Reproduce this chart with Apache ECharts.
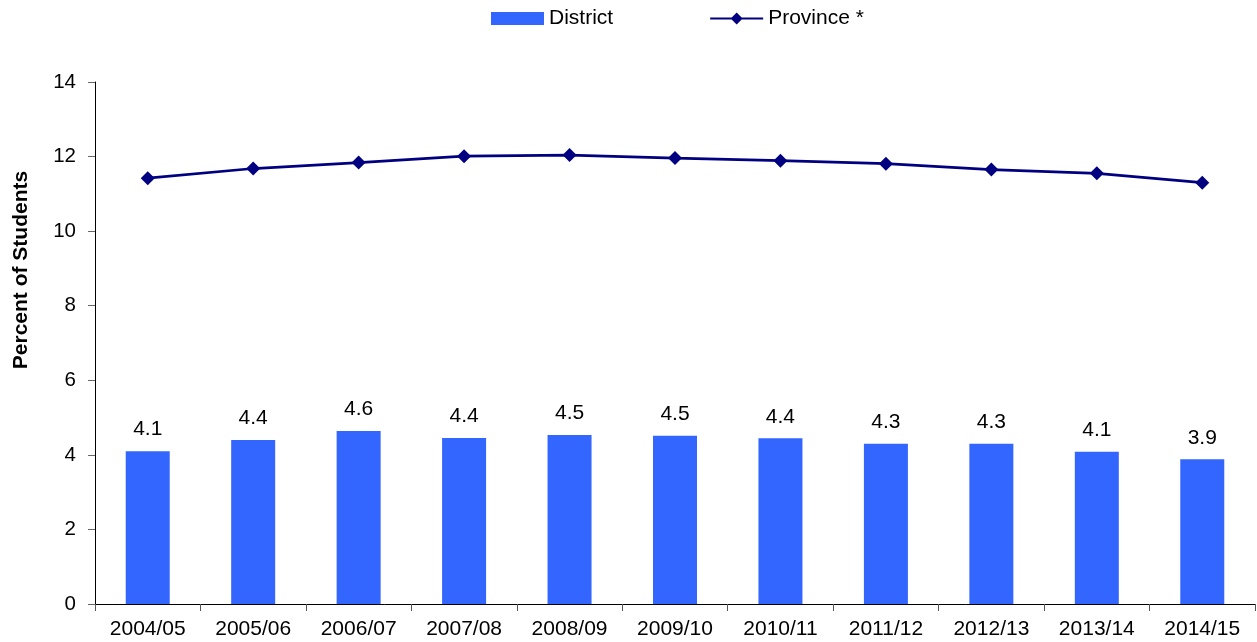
<!DOCTYPE html>
<html><head><meta charset="utf-8">
<script src="https://cdn.jsdelivr.net/npm/echarts@6/dist/echarts.min.js"></script>
<style>html,body{margin:0;padding:0;background:#fff}#c{width:1257px;height:642px}</style>
</head><body><div id="c"></div>
<script>
const categories = ["2004/05","2005/06","2006/07","2007/08","2008/09","2009/10","2010/11","2011/12","2012/13","2013/14","2014/15"];
const districtValues = [4.1,4.4,4.64,4.449,4.53,4.51,4.445,4.3,4.3,4.08,3.88];
const provinceValues = [11.42,11.68,11.84,12.01,12.04,11.96,11.89,11.81,11.65,11.55,11.3];
const yTicks = [0,2,4,6,8,10,12,14];

const font = "Liberation Sans, Arial, sans-serif";
const lineIcon = 'path://M0,5.6L53,5.6L53,7.4L0,7.4Z M20.5,6.5L26.5,0.5L32.5,6.5L26.5,12.5Z';
const chart = echarts.init(document.getElementById('c'));
chart.setOption({
  animation:false,
  textStyle:{fontFamily:font},
  legend:{
    top:3, left:486, itemGap:97, itemWidth:53, itemHeight:13,
    textStyle:{fontSize:21,color:'#000',fontFamily:font},
    data:[{name:'District',icon:'rect'},{name:'Province *',icon:lineIcon,itemStyle:{color:'#000080'}}]
  },
  grid:{left:95,right:2,top:82,bottom:38,containLabel:false},
  xAxis:{
    type:'category', data:categories, boundaryGap:true,
    axisLine:{lineStyle:{color:'#000',width:1}},
    axisTick:{show:true,length:7,lineStyle:{color:'#555'},alignWithLabel:false},
    axisLabel:{fontSize:21,color:'#000',margin:15,fontFamily:font,interval:0}
  },
  yAxis:{
    type:'value', min:0, max:14, interval:2,
    name:'Percent of Students', nameLocation:'middle', nameGap:63, nameRotate:90,
    nameTextStyle:{fontSize:21,fontWeight:'bold',color:'#000',fontFamily:font,padding:[0,0,0,146]},
    axisLine:{show:true,lineStyle:{color:'#000',width:1}},
    axisTick:{show:true,length:7,lineStyle:{color:'#666'}},
    axisLabel:{fontSize:20.5,color:'#000',margin:19,fontFamily:font,
      formatter:v=>yTicks.includes(v)?String(v):''},
    splitLine:{show:false}
  },
  series:[
    {name:'District',type:'bar',data:districtValues,barWidth:44,
     itemStyle:{color:'#3366FF'},
     label:{show:true,position:'top',distance:11,fontSize:21,color:'#000',fontFamily:font,
       formatter:p=>p.value.toFixed(1)}},
    {name:'Province *',type:'line',data:provinceValues,symbol:'diamond',symbolSize:14,
     lineStyle:{color:'#000080',width:2.75},itemStyle:{color:'#000080'}}
  ]
});
</script></body></html>
